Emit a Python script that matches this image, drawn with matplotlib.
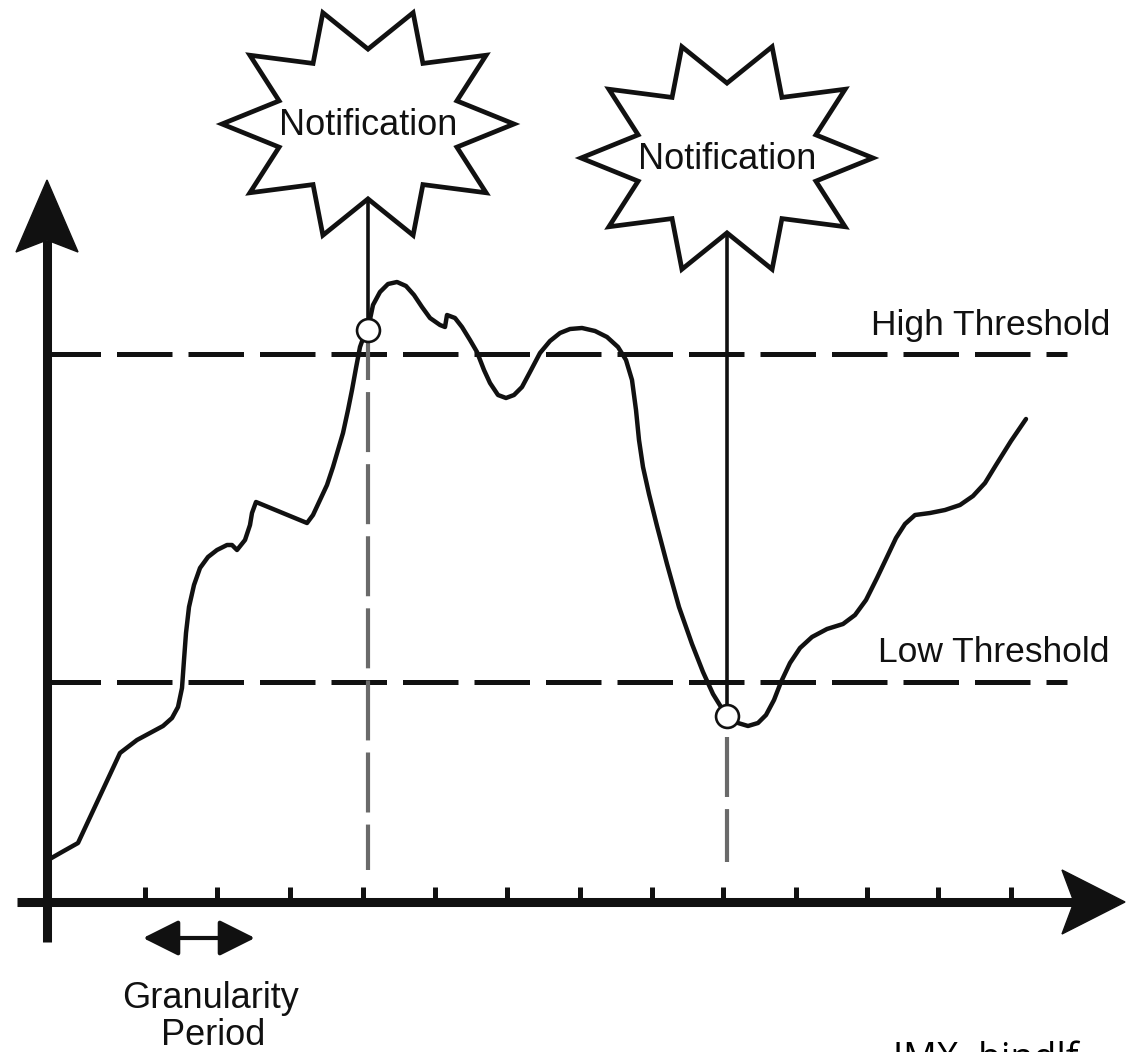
import numpy as np
import matplotlib
matplotlib.use("Agg")
import matplotlib.pyplot as plt
from matplotlib.patches import Polygon

# ── data (time along x, level along y; origin where the axes cross) ─────────
CURVE_T = [1, 15, 31, 52, 73, 90, 103, 116, 125, 131, 135, 137, 139, 142, 147,
           153, 161, 170, 180, 185, 190, 198, 203, 205, 209, 260, 266, 273, 280,
           286, 291, 296, 301, 305, 309, 313, 318, 321, 326, 333, 341, 350, 359,
           367, 375, 383, 393, 398, 400, 408, 415, 423, 430, 437, 443, 451, 459,
           467, 475, 483, 493, 503, 513, 523, 535, 548, 560, 571, 579, 585, 589,
           592, 596, 602, 610, 620, 632, 645, 656, 666, 674, 681, 691, 701, 711,
           719, 727, 734, 743, 753, 765, 780, 796, 808, 819, 830, 840, 849, 858,
           868, 883, 898, 913, 926, 938, 949, 964, 979]
CURVE_V = [42, 50, 59, 104, 149, 162, 169, 176, 184, 195, 214, 242, 269, 295, 317,
           334, 345, 352, 357, 357, 352, 362, 377, 389, 400, 379, 387, 402, 417,
           435, 452, 469, 492, 512, 534, 555, 569, 573, 597, 610, 618, 620, 616,
           607, 595, 584, 577, 575, 587, 584, 575, 562, 550, 532, 519, 507, 504,
           507, 515, 530, 549, 561, 569, 573, 574, 571, 565, 555, 542, 522, 492,
           462, 435, 408, 376, 338, 295, 258, 230, 208, 195, 186, 179, 176, 179,
           187, 202, 220, 239, 254, 265, 273, 278, 287, 302, 324, 345, 364, 378,
           387, 389, 392, 397, 406, 419, 437, 461, 483]

HIGH_THRESHOLD = 548
LOW_THRESHOLD = 220
TICKS = [98, 170, 243, 316, 388, 460, 533, 605, 676, 749, 820, 891, 964]

NOTIFY_T = [321, 680]          # samples that fire a notification
NOTIFY_V = [572, 186]          # curve level at those samples
STAR_V = [778, 744]            # where the bursts sit
DASH_TOP = [582, 165]
DASH_BOTTOM = [32, 40]

INK = "#111111"
GREY = "#6a6a6a"
FONT = ["Liberation Sans", "DejaVu Sans"]

fig = plt.figure(figsize=(11.28, 10.52), dpi=100)
ax = fig.add_axes([0, 0, 1, 1])
ax.set_xlim(-47, 1081)
ax.set_ylim(-150, 902)
ax.axis("off")

# ── axes with arrowheads ────────────────────────────────────────────────────
ax.plot([0, 0], [-40, 662], color=INK, lw=6.5, solid_capstyle="butt", zorder=5)
ax.plot([-30, 1027], [0, 0], color=INK, lw=6.5, solid_capstyle="butt", zorder=5)
ax.add_patch(Polygon([(0, 722), (31, 650), (0, 662), (-31, 650)],
                     closed=True, fc=INK, ec=INK, lw=1, zorder=5))
ax.add_patch(Polygon([(1078, 0), (1015, 32), (1027, 0), (1015, -32)],
                     closed=True, fc=INK, ec=INK, lw=1, zorder=5))
for t in TICKS:
    ax.plot([t, t], [0, 15], color=INK, lw=3.6, solid_capstyle="butt", zorder=5)

# ── thresholds ──────────────────────────────────────────────────────────────
for lvl in (HIGH_THRESHOLD, LOW_THRESHOLD):
    ax.plot([-2, 1020], [lvl, lvl], color=INK, lw=3.6, dashes=(11.1, 3.2),
            solid_capstyle="butt", zorder=2)
ax.text(1063, 567, "High Threshold", ha="right", va="baseline",
        fontsize=25.5, family=FONT, color=INK)
ax.text(1063, 240, "Low Threshold", ha="right", va="baseline",
        fontsize=25.5, family=FONT, color=INK)

# ── signal ──────────────────────────────────────────────────────────────────
ax.plot(CURVE_T, CURVE_V, color=INK, lw=3.2, solid_joinstyle="round",
        solid_capstyle="round", zorder=3)

# ── notifications ───────────────────────────────────────────────────────────
ang = np.radians(np.arange(20) * 18.0)
rad = np.where(np.arange(20) % 2 == 0, 1.0, 0.64)
for t, v, sv, top, bot in zip(NOTIFY_T, NOTIFY_V, STAR_V, DASH_TOP, DASH_BOTTOM):
    ax.plot([t, t], [v, sv], color=INK, lw=2.6, zorder=4)
    ax.plot([t, t], [top, bot], color=GREY, lw=3, dashes=(14.4, 2.9),
            solid_capstyle="butt", zorder=2)
    ax.plot([t], [v], marker="o", ms=16.5, mfc="white", mec=INK, mew=1.9,
            zorder=6)
    star = np.column_stack([t + 146 * rad * np.cos(ang), sv + 117 * rad * np.sin(ang)])
    ax.add_patch(Polygon(star, closed=True, fc="white", ec=INK, lw=3.4,
                         joinstyle="miter", zorder=7))
    ax.text(t, sv - 11, "Notification", ha="center", va="baseline",
            fontsize=26, family=FONT, color=INK, zorder=8)

# ── granularity period ──────────────────────────────────────────────────────
ax.annotate("", xy=(208, -36), xytext=(96, -36),
            arrowprops=dict(arrowstyle="<|-|>,head_length=1.1,head_width=0.55",
                            mutation_scale=20, lw=3, color=INK,
                            shrinkA=0, shrinkB=0))
ax.text(164, -106, "Granularity", ha="center", va="baseline",
        fontsize=26, family=FONT, color=INK)
ax.text(166, -143, "Period", ha="center", va="baseline",
        fontsize=26, family=FONT, color=INK)

# scanner watermark, cut by the bottom edge as in the scan
ax.text(846, -168, "JMX· bindlf", ha="left", va="baseline",
        fontsize=27, family=["Open Sans", "DejaVu Sans"], color="black")

fig.savefig("out.png", dpi=100, facecolor="white")
